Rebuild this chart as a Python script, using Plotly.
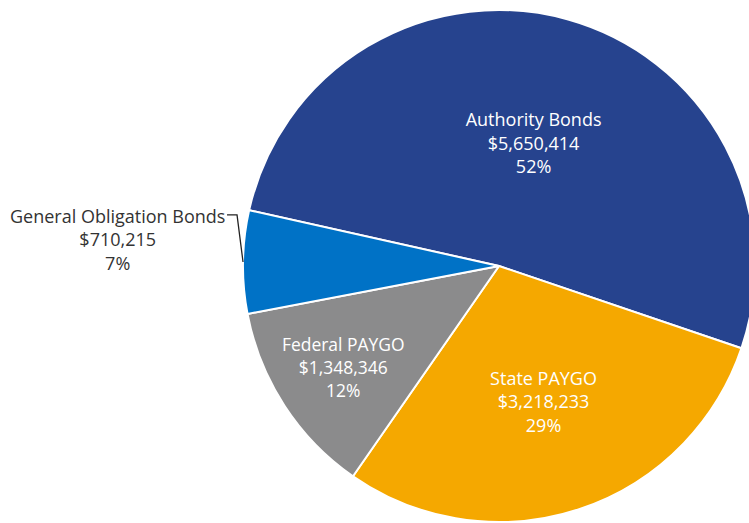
import math
import plotly.graph_objects as go

labels = ["Authority Bonds", "State PAYGO", "Federal PAYGO", "General Obligation Bonds"]
values = [5650414, 3218233, 1348346, 710215]
pct_labels = ["52%", "29%", "12%", "7%"]
colors = ["#26438E", "#F5A800", "#8B8B8C", "#0072C6"]
text_positions = ["inside", "inside", "inside", "none"]

W, H = 760, 523
rotation = -77.4  # degrees clockwise from 12 o'clock where the first slice starts
dom_x = [243 / W, 755 / W]
dom_y = [1 / H, 513 / H]
FONT = "Open Sans"
FSIZE = 18

fig = go.Figure(go.Pie(
    labels=labels,
    values=values,
    customdata=pct_labels,
    texttemplate="%{label}<br>$%{value:,}<br>%{customdata}",
    textposition=text_positions,
    insidetextorientation="horizontal",
    sort=False,
    direction="clockwise",
    rotation=rotation,
    marker=dict(colors=colors, line=dict(color="#FFFFFF", width=2)),
    textfont=dict(family=FONT, size=FSIZE, color="#FFFFFF"),
    domain=dict(x=dom_x, y=dom_y),
    hoverinfo="skip",
    showlegend=False,
))

# outside label for the last (small) slice, with an elbow leader line
total = sum(values)
start = sum(values[:-1]) / total
mid_frac = start + values[-1] / total / 2
clock_deg = rotation + mid_frac * 360
theta = math.radians(90 - clock_deg)
cx = (dom_x[0] + dom_x[1]) / 2
cy = (dom_y[0] + dom_y[1]) / 2
r_px = min((dom_x[1] - dom_x[0]) * W, (dom_y[1] - dom_y[0]) * H) / 2
tip_x = cx + r_px * math.cos(theta) / W
tip_y = cy + r_px * math.sin(theta) / H
label_y = tip_y + 47 / H
elbow_x = tip_x - 6 / W
end_x = elbow_x - 10 / W

fig.add_annotation(
    x=end_x - 1 / W, y=label_y, xref="paper", yref="paper",
    xanchor="right", yanchor="top",
    yshift=12,
    text=f"{labels[-1]}<br>${values[-1]:,}<br>{pct_labels[-1]}",
    showarrow=False, align="center",
    font=dict(family=FONT, size=FSIZE, color="#333333"),
    borderpad=0,
)
fig.add_shape(
    type="path", xref="paper", yref="paper",
    path=f"M {end_x} {label_y} L {elbow_x} {label_y} L {tip_x} {tip_y}",
    line=dict(color="#222222", width=1.3),
)

fig.update_layout(
    width=W, height=H,
    margin=dict(l=0, r=0, t=0, b=0),
    paper_bgcolor="#FFFFFF",
    plot_bgcolor="#FFFFFF",
    showlegend=False,
)

fig.write_html(
    "out.html",
    config={"displayModeBar": False},
    post_script=(
        "document.documentElement.style.margin='0';"
        "document.body.style.margin='0';"
        "document.documentElement.style.overflow='hidden';"
        "document.body.style.overflow='hidden';"
    ),
)
